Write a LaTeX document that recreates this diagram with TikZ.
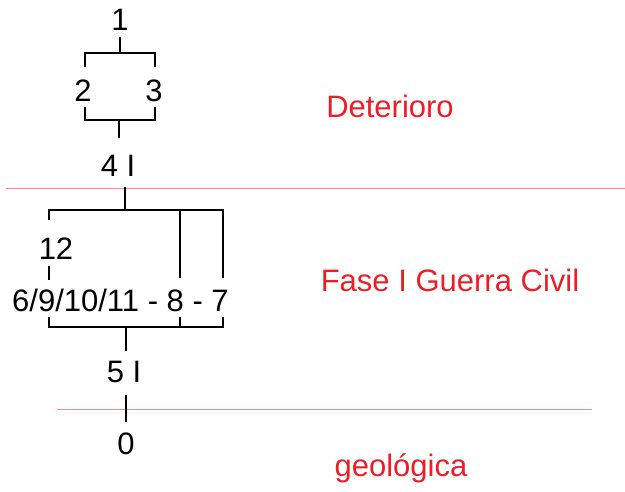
\documentclass[tikz,border=0pt]{standalone}
\usepackage{fontspec}
\setmainfont{Liberation Sans}
\usepackage{xcolor}
\usetikzlibrary{positioning}
\definecolor{phasered}{RGB}{235, 30, 40}
\definecolor{boundred}{RGB}{255, 140, 140}

\tikzset{
  unit/.style={font=\fontsize{31}{34}\selectfont, inner sep=0pt},
  phase/.style={unit, text=phasered},
  link/.style={line width=2pt},
  boundary/.style={boundred, line width=1pt}
}

\begin{document}
\begin{tikzpicture}[x=1pt, y=-1pt]
  \useasboundingbox (0,0) rectangle (625,492);
  % phase boundaries
  \coordinate (bndAl) at (6,189);   \coordinate (bndAr) at (625,189);
  \coordinate (bndBl) at (57,410);  \coordinate (bndBr) at (592,410);
  \draw[boundary] (bndAl) -- (bndAr);
  \draw[boundary] (bndBl) -- (bndBr);
  % phase names
  \node[phase] (deter) at (390,106) {Deterioro};
  \node[phase] (guerra) at (450,280) {Fase I Guerra Civil};
  \node[phase] (geol) at (401,468) {geológica};
  % units
  \node[unit] (u1) at (120,20) {1};
  \node[unit] (u2) at (83,91) {2};
  \node[unit] (u3) at (154,91) {3};
  \node[unit] (u4) at (118,166) {4 I};
  \node[unit] (u12) at (56,249) {12};
  \node[unit, anchor=west] (grp) at (12,300) {6/9/10/11 - 8 - 7};
  \node[unit] (u5) at (124,372) {5 I};
  \node[unit] (u0) at (126,444) {0};
  % upper bracket
  \coordinate (brAl) at (85,53);  \coordinate (brAr) at (155,53);
  \coordinate (brAc) at (120,53);
  \draw[link, shorten <=6pt] (u1) -- (brAc);
  \draw[link] (brAl) ++(0,14) -- (brAl) -- (brAr) -- ++(0,14);
  \coordinate (brBl) at (85,120); \coordinate (brBr) at (155,120);
  \coordinate (brBc) at (119,120);
  \draw[link] (brBl) ++(0,-13) -- (brBl) -- (brBr) -- ++(0,-13);
  \draw[link, shorten <=17pt] (u4.north -| brBc) -- (brBc);
  % middle bracket
  \coordinate (brCl) at (49,210); \coordinate (brCr) at (223,210);
  \coordinate (brCm) at (180,210); \coordinate (brCc) at (125,210);
  \draw[link, shorten <=10pt] (u4.south -| brCc) -- (brCc);
  \draw[link] (brCl) ++(0,10) -- (brCl) -- (brCr) -- ++(0,68);
  \draw[link] (brCm) -- ++(0,68);
  \draw[link] (u12.south -| brCl) ++(0,6) -- ++(0,14);
  \coordinate (brDl) at (49,327); \coordinate (brDr) at (223,327);
  \coordinate (brDm) at (180,327); \coordinate (brDc) at (126,327);
  \draw[link] (brDl) ++(0,-10) -- (brDl) -- (brDr) -- ++(0,-10);
  \draw[link] (brDm) -- ++(0,-10);
  \draw[link, shorten <=10pt] (u5.north -| brDc) -- (brDc);
  % lower stem
  \draw[link, shorten <=12pt, shorten >=11pt] (u5.south -| u0) -- (u0.north);
\end{tikzpicture}
\end{document}
